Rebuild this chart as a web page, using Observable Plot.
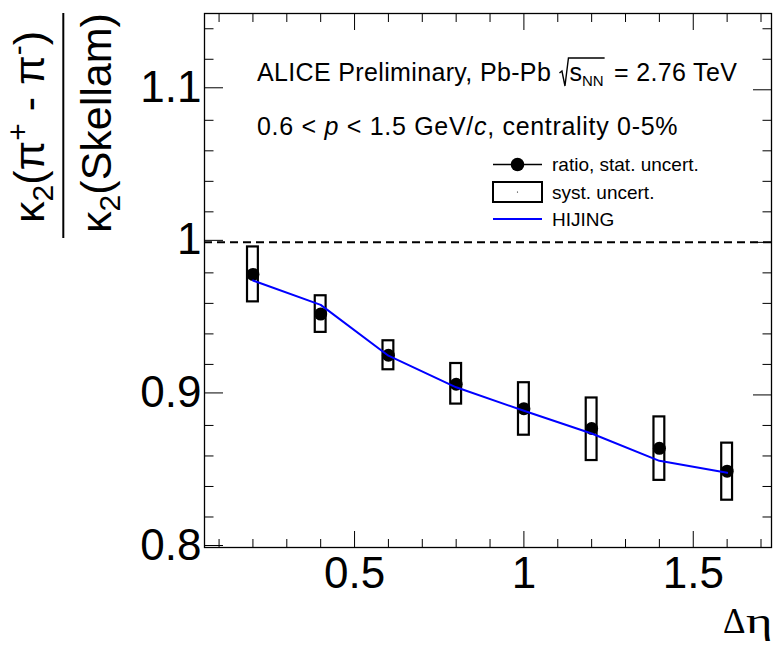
<!DOCTYPE html>
<html><head><meta charset="utf-8">
<script src="https://cdn.jsdelivr.net/npm/d3@7"></script>
<script src="https://cdn.jsdelivr.net/npm/@observablehq/plot@0.6"></script>
<style>
body{margin:0;background:#fff}
#chart{position:relative;width:774px;height:648px}
</style>
</head><body><div id="chart"></div>
<script>
// ---- data ----
const deltaEta  = [0.2, 0.4, 0.6, 0.8, 1.0, 1.2, 1.4, 1.6];
const ratio     = [0.979, 0.953, 0.926, 0.907, 0.891, 0.878, 0.865, 0.850];
const systLow   = [0.961, 0.941, 0.9165, 0.894, 0.8736, 0.857, 0.844, 0.831];
const systHigh  = [0.997, 0.965, 0.9355, 0.9206, 0.908, 0.898, 0.8856, 0.8684];
const hijing    = [0.975, 0.959, 0.9257, 0.905, 0.8896, 0.8747, 0.8568, 0.849];
const xMajorTicks = [0.5, 1, 1.5];
const xMinorTicks = [0.1, 0.2, 0.3, 0.4, 0.6, 0.7, 0.8, 0.9, 1.1, 1.2, 1.3, 1.4, 1.6, 1.7];
const yMajorTicks = [0.8, 0.9, 1, 1.1];
const yMinorTicks = [0.82, 0.84, 0.86, 0.88, 0.92, 0.94, 0.96, 0.98, 1.02, 1.04, 1.06, 1.08, 1.12, 1.14];
const xDomain = [0.057, 1.731];
const yDomain = [0.8, 1.15];
const systHalfWidth = 0.016;

const rows = deltaEta.map((x, i) => ({x, ratio: ratio[i], lo: systLow[i], hi: systHigh[i], hijing: hijing[i]}));
const fmt = d => String(d);
const FONT = "Liberation Sans, Arial, Helvetica, sans-serif";

const plot = Plot.plot({
  width: 774, height: 648,
  marginLeft: 204, marginRight: 3, marginTop: 13, marginBottom: 101,
  style: {fontFamily: FONT, background: "white", color: "black"},
  x: {domain: xDomain},
  y: {domain: yDomain},
  marks: [
    Plot.ruleY([1], {stroke: "black", strokeWidth: 2, strokeDasharray: "8,5"}),
    Plot.rect(rows, {x1: d => d.x - systHalfWidth, x2: d => d.x + systHalfWidth, y1: "lo", y2: "hi", fill: "none", stroke: "black", strokeWidth: 2.2}),
    Plot.dot(rows, {x: "x", y: "ratio", r: 6.5, fill: "black", stroke: "none"}),
    Plot.line(rows, {x: "x", y: "hijing", stroke: "#0000ff", strokeWidth: 2}),
    // axes: ticks inward (ROOT style), on all four sides
    Plot.axisX(xMajorTicks, {anchor: "bottom", tickSize: -16, tickPadding: 25, tickFormat: fmt, fontSize: 44, label: null}),
    Plot.axisX(xMinorTicks, {anchor: "bottom", tickSize: -8, tickFormat: () => "", label: null}),
    Plot.axisX(xMajorTicks, {anchor: "top", tickSize: -16, tickFormat: () => "", label: null}),
    Plot.axisX(xMinorTicks, {anchor: "top", tickSize: -8, tickFormat: () => "", label: null}),
    Plot.axisY(yMajorTicks, {anchor: "left", tickSize: -19, tickPadding: 22, tickFormat: fmt, fontSize: 44, dy: -2, label: null}),
    Plot.axisY(yMinorTicks, {anchor: "left", tickSize: -9.5, tickFormat: () => "", label: null}),
    Plot.axisY(yMajorTicks, {anchor: "right", tickSize: -19, tickFormat: () => "", label: null}),
    Plot.axisY(yMinorTicks, {anchor: "right", tickSize: -9.5, tickFormat: () => "", label: null}),
    Plot.frame({stroke: "black", strokeWidth: 1.3})
  ]
});

document.getElementById("chart").append(plot);
const svg = d3.select(plot);
const g = svg.append("g").attr("font-family", FONT).attr("fill", "black").attr("text-anchor", "start").attr("font-size", 20);

function rich(parent, parts) {
  const t = parent.append("text").style("white-space", "pre");
  let shift = 0;
  for (const p of parts) {
    const s = t.append("tspan").text(p.t);
    let target = 0;
    if (p.sub) { target = p.sub; s.attr("font-size", p.size); }
    else if (p.sup) { target = -p.sup; s.attr("font-size", p.size); }
    if (p.italic) s.attr("font-style", "italic");
    const dy = target - shift;
    if (dy) s.attr("dy", dy);
    shift = target;
  }
  return t;
}

// ---- y-axis title (fraction, rotated) ----
const fs = 43;
rich(g.append("g").attr("transform", "translate(44,127) rotate(-90)"), [
  {t: "κ"}, {t: "2", sub: 9, size: 30}, {t: "(π"}, {t: "+", sup: 16, size: 30}, {t: " - π"}, {t: "-", sup: 16, size: 30}, {t: ")"}
]).attr("font-size", fs).attr("text-anchor", "middle");
rich(g.append("g").attr("transform", "translate(111,123) rotate(-90)"), [
  {t: "κ"}, {t: "2", sub: 9, size: 30}, {t: "(Skellam)"}
]).attr("font-size", fs).attr("text-anchor", "middle");
g.append("line").attr("x1", 63.3).attr("x2", 63.3).attr("y1", 13).attr("y2", 238).attr("stroke", "black").attr("stroke-width", 2);

// ---- x-axis title ----
const SERIF = "Liberation Serif, Times New Roman, serif";
g.append("text").attr("x", 723).attr("y", 633).attr("font-family", SERIF).attr("font-size", 35).text("Δ");
g.append("text").attr("transform", "translate(746,633) scale(1.45,1)").attr("font-family", SERIF).attr("font-size", 35).text("η");

// ---- annotation line 1 ----
const afs = 25, by1 = 81, ls1 = 0.35;
let cx = 257;
const a1 = g.append("text").attr("x", cx).attr("y", by1).attr("font-size", afs).attr("letter-spacing", ls1).style("white-space", "pre").text("ALICE Preliminary, Pb-Pb ");
cx += a1.node().getComputedTextLength();
const rx0 = cx + 1;
const sText = g.append("text").attr("x", rx0 + 10).attr("y", by1).attr("font-size", afs);
sText.append("tspan").text("s");
sText.append("tspan").attr("font-size", 15).attr("dy", 5).text("NN");
const sW = sText.node().getComputedTextLength();
const rEnd = rx0 + 10 + sW + 1;
g.append("path").attr("d", `M${rx0},${by1-8} L${rx0+2.5},${by1-10} L${rx0+5.5},${by1+5} L${rx0+9},${by1-23} L${rEnd},${by1-23}`)
  .attr("fill", "none").attr("stroke", "black").attr("stroke-width", 1.4);
g.append("text").attr("x", rEnd + 2).attr("y", by1).attr("font-size", afs).attr("letter-spacing", ls1).style("white-space", "pre").text(" = 2.76 TeV");

// ---- annotation line 2 ----
rich(g, [{t: "0.6 < "}, {t: "p", italic: true}, {t: " < 1.5 GeV/"}, {t: "c", italic: true}, {t: ", centrality 0-5%"}])
  .attr("x", 257).attr("y", 135).attr("font-size", afs).attr("letter-spacing", 0.7);

// ---- legend ----
const lx0 = 493, lx1 = 542, lxm = (lx0 + lx1) / 2, ltx = 552, lfs = 19;
const leg = g.append("g");
leg.append("line").attr("x1", lx0).attr("x2", lx1).attr("y1", 164.5).attr("y2", 164.5).attr("stroke", "black").attr("stroke-width", 1.6);
leg.append("circle").attr("cx", lxm).attr("cy", 164.5).attr("r", 6.8).attr("fill", "black");
leg.append("rect").attr("x", lx0).attr("y", 182).attr("width", lx1 - lx0).attr("height", 20).attr("fill", "none").attr("stroke", "black").attr("stroke-width", 2);
leg.append("circle").attr("cx", lxm).attr("cy", 192).attr("r", 0.6).attr("fill", "black");
leg.append("line").attr("x1", lx0).attr("x2", lx1).attr("y1", 219).attr("y2", 219).attr("stroke", "#0000ff").attr("stroke-width", 2);
leg.append("text").attr("x", ltx).attr("y", 171).attr("font-size", lfs).text("ratio, stat. uncert.");
leg.append("text").attr("x", ltx).attr("y", 199).attr("font-size", lfs).text("syst. uncert.");
leg.append("text").attr("x", ltx).attr("y", 226).attr("font-size", lfs).text("HIJING");
</script>
</body></html>
